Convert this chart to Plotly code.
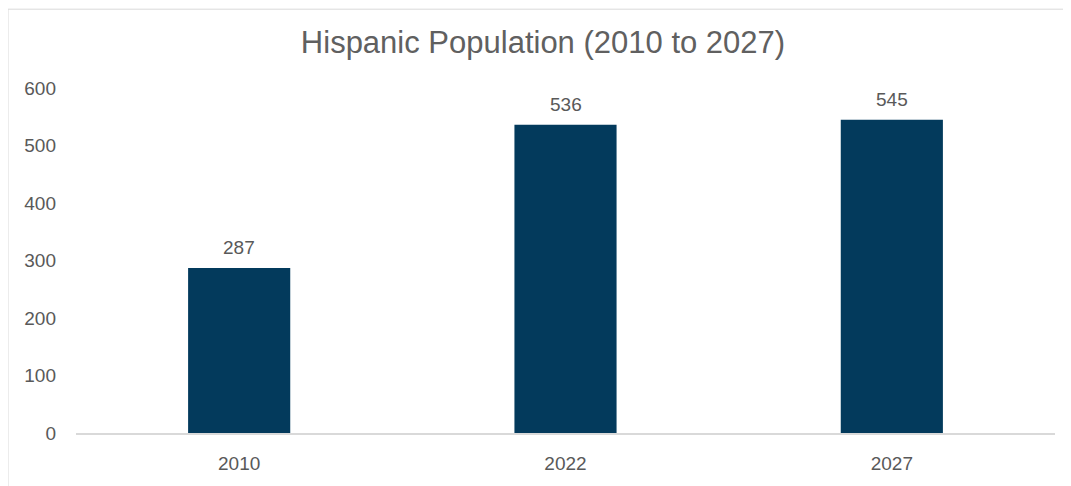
import plotly.graph_objects as go

categories = ["2010", "2022", "2027"]
values = [287, 536, 545]
y_ticks = [0, 100, 200, 300, 400, 500, 600]

bar_color = "#033a5c"
text_color = "#595959"
font_family = "Liberation Sans, Arial, sans-serif"

fig = go.Figure()
fig.add_trace(go.Bar(
    x=categories, y=values,
    marker=dict(color=bar_color, line=dict(width=0)),
    hoverinfo="skip",
))

# value labels above bars (x given as category index to avoid numeric parsing)
for i, v in enumerate(values):
    fig.add_annotation(x=i, y=v, text=str(v), showarrow=False,
                       yanchor="bottom", yshift=8,
                       font=dict(size=19, color=text_color, family=font_family))

# chart border (page is offset 8px by body margin)
fig.add_shape(type="rect", xref="paper", yref="paper",
              x0=-68/979, x1=1.1, y0=-0.3, y1=1 + 79.5/348,
              line=dict(color="#d9d9d9", width=1), fillcolor="rgba(0,0,0,0)",
              layer="below")

fig.update_layout(
    width=1063, height=478,
    margin=dict(l=68, r=16, t=80, b=50, pad=0),
    paper_bgcolor="white", plot_bgcolor="white",
    showlegend=False,
    bargap=0.687,
    font=dict(family=font_family, color=text_color, size=19),
    title=dict(text="Hispanic Population (2010 to 2027)",
               x=535/1063, xref="container", xanchor="center",
               y=1-34/478, yref="container", yanchor="middle",
               font=dict(size=31, color="#606060", family=font_family)),
    xaxis=dict(type="category", range=[-0.5, 2.5], showgrid=False,
               zeroline=False, showline=True,
               linecolor="#d9d9d9", linewidth=2, ticks="",
               ticklabelstandoff=12,
               tickfont=dict(size=19, color=text_color)),
    yaxis=dict(range=[0, 600], tickvals=y_ticks, showgrid=False,
               zeroline=False, showline=False, ticks="",
               ticklabelstandoff=19,
               tickfont=dict(size=19, color=text_color)),
)

fig.write_html("out.html")
